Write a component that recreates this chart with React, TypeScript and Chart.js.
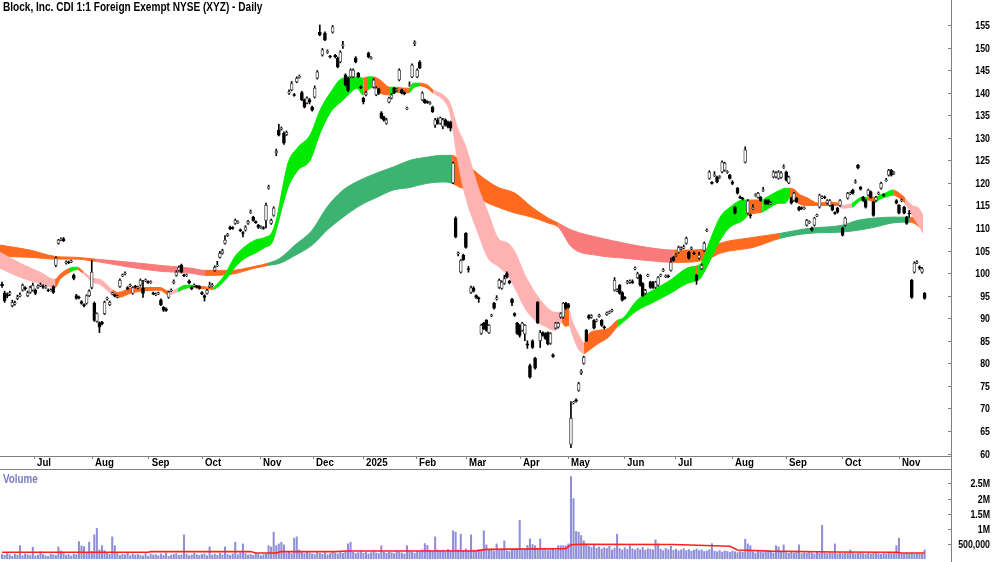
import React, { useEffect, useRef } from 'react';
import { Chart, registerables } from 'chart.js';

Chart.register(...registerables);

const FONT_FAMILY = "'Liberation Sans', Arial, sans-serif";
const TITLE = 'Block, Inc. CDI 1:1 Foreign Exempt NYSE (XYZ) - Daily';

// month ticks (day index) and labels
const monthTickPos = [12.49, 35.12, 57.25, 78.05, 100.68, 121.37, 140.88, 161.56, 181.07, 202.15, 220.88, 242.73, 262.63, 284.88, 305.95, 327.8, 350.05];
const monthTickLabel = ['Jul', 'Aug', 'Sep', 'Oct', 'Nov', 'Dec', '2025', 'Feb', 'Mar', 'Apr', 'May', 'Jun', 'Jul', 'Aug', 'Sep', 'Oct', 'Nov'];
const priceTicks = [60, 65, 70, 75, 80, 85, 90, 95, 100, 105, 110, 115, 120, 125, 130, 135, 140, 145, 150, 155];
const priceTickLabels = ['60', '65', '70', '75', '80', '85', '90', '95', '100', '105', '110', '115', '120', '125', '130', '135', '140', '145', '150', '155'];
const volumeTicks = [500000, 1000000, 1500000, 2000000, 2500000];
const volumeTickLabels = ['500,000', '1M', '1.5M', '2M', '2.5M'];

const openP = [
  97.5, 95.5, 95.2, 95.3, 92.8, 93.2, 94.4, 94.9, 96.2, 96.8,
  95, 95.7, 96.2, 96.2, 96.8, 97.2, 97.1, 96.8, 96.3, 96.1,
  97, 101.7, 106.6, 107.4, 107.6, 102.2, 102.5, 102.5, 99.5, 95,
  94.7, 93.7, 93, 93.3, 95, 96.8, 93.3, 89.3, 89, 89.1,
  91, 94.3, 93, 95.4, 95.1, 94.7, 97, 99.4, 99.8, 96.8,
  97.2, 95.5, 97.1, 96.7, 97.3, 96.6, 98.3, 98.1, 97.9, 95.6,
  95.2, 95.4, 94, 92.4, 92.1, 94.6, 96.1, 97.9, 99.5, 100.6,
  101.7, 99.6, 99.4, 98.3, 96.8, 97.2, 97.1, 97, 95.7, 95,
  95.5, 97, 97.2, 100.6, 101.6, 103.5, 104.4, 106.6, 108.3, 110.2,
  110.1, 111, 111.2, 109.6, 109, 109.5, 111, 113.4, 112.4, 111.4,
  110.6, 110.1, 110.1, 111.7, 118.8, 111, 112.8, 126.7, 131.7, 131.9,
  131, 130.7, 139.9, 140.6, 139.6, 142.4, 143.4, 140, 138.4, 137.7,
  138.4, 136.8, 139, 143.2, 153.4, 148.3, 153.2, 148.9, 148.1, 153.4,
  148.3, 147.6, 146.8, 150.4, 143.9, 143.2, 143.5, 143.5, 147.7, 144.3,
  141.3, 138.8, 139.5, 148.8, 147.6, 141.2, 139.5, 140.8, 135.5, 134.6,
  133.2, 137.9, 138.8, 141, 140.5, 142.8, 140.6, 140, 136.4, 141.6,
  143.5, 150.8, 143.5, 146.8, 138.4, 138.4, 138, 137.6, 136.8, 132.8,
  134, 133.2, 132.5, 134, 133.5, 133.5, 120, 112.2, 104.3, 100.2,
  104, 108.8, 101, 95.7, 96.7, 95, 94.5, 86.6, 88.9, 89.5,
  86.8, 90.5, 93.3, 94.3, 96.8, 96.6, 97.7, 99.9, 98.2, 94.2,
  91, 88.9, 88.4, 87.3, 86.5, 84.3, 79.5, 85, 81.1, 93.5,
  85, 86.8, 86.6, 86.8, 84.4, 81.9, 87.8, 88, 90.2, 90.2,
  93.3, 93, 62, 71.2, 71.9, 74, 77.9, 80, 87.3, 90.6,
  90.2, 89.5, 89.4, 90.4, 89.5, 88.1, 90.8, 91.2, 91.6, 96.2,
  96.1, 97.3, 95.7, 94.6, 97.9, 98, 98.1, 100.9, 99, 99.5,
  97.7, 95.5, 99.4, 98, 98, 96.8, 97.3, 99.4, 100.5, 99.2,
  99.4, 100.6, 103.5, 103.9, 104.6, 105.4, 105.6, 106.6, 104.6, 105.4,
  104.5, 99.5, 103.3, 101, 105, 109.4, 121, 120.1, 121.6, 121.3,
  121.2, 122.4, 122.8, 122.3, 121.7, 120.1, 114.6, 118.8, 116.9, 116.6,
  124.6, 113.3, 112.9, 114.3, 117.2, 116.8, 116.8, 118.3, 116.1, 116.1,
  115.4, 121.3, 121.3, 121, 121.2, 123.4, 122.4, 120, 116.6, 116.1,
  116.6, 114.6, 114.5, 114.3, 110.6, 111.2, 110, 110.6, 112.7, 114.6,
  116.7, 116.9, 115.5, 115, 115, 113.4, 114.4, 115, 110, 110.6,
  116.6, 117.6, 118.4, 120.1, 123.9, 119, 116.8, 116.1, 117.3, 118,
  115.7, 116.1, 117.6, 118.8, 117.4, 120.5, 121.7, 122.8, 122.1, 116.1,
  115, 116, 114.6, 112.4, 113.3, 98.4, 100.2, 102.3, 101.4, 100.2,
  95.5,
];

const highP = [
  98, 96, 95.6, 96, 94, 93.8, 95.1, 95.6, 97.6, 97,
  96, 97.1, 97.8, 96.5, 97.4, 97.8, 97.4, 97.3, 96.5, 96.5,
  97.2, 103.6, 107.5, 107.8, 107.9, 102.7, 102.7, 102.9, 99.8, 95.3,
  94.9, 93.9, 93.2, 95.2, 96.3, 102.8, 93.6, 91.2, 89.2, 89.3,
  93.8, 94.7, 93.8, 95.8, 95.3, 95.1, 98.7, 99.8, 100.3, 97,
  97.6, 97, 97.3, 97.1, 98.7, 98.4, 98.7, 98.3, 98.3, 95.8,
  95.6, 95.8, 94.3, 92.6, 92.3, 96, 96.5, 98.5, 100.5, 101.6,
  102, 99.8, 99.8, 98.5, 97, 97.6, 97.3, 97.2, 95.9, 95.2,
  96.4, 98, 97.7, 101.6, 102.6, 104.8, 105.3, 108.3, 108.8, 110.4,
  110.3, 112, 111.6, 109.8, 109.2, 110.5, 111.7, 114, 112.6, 111.6,
  110.8, 110.5, 110.3, 115.5, 119.5, 112, 114.7, 127.5, 133, 132.4,
  131.3, 131.5, 140.6, 142.5, 139.8, 143.5, 143.9, 140.3, 138.6, 139.1,
  138.7, 137, 141.5, 144.9, 155, 149.8, 153.5, 149.5, 148.3, 154.9,
  148.5, 147.9, 149.3, 151.4, 144.2, 143.5, 145.3, 145.3, 148, 144.5,
  141.5, 139, 140.3, 149, 148, 143.1, 141.3, 141, 135.8, 134.8,
  134.3, 139, 139.8, 141.2, 140.9, 145.3, 140.8, 140.2, 136.8, 142.4,
  146.4, 151.5, 145.3, 147.1, 140.2, 138.6, 138.2, 138, 137, 134.3,
  134.4, 134.6, 134.3, 134.2, 133.7, 133.7, 124.6, 112.5, 104.7, 103,
  104.2, 109, 101.5, 97.1, 97, 95.2, 94.7, 88.7, 89.1, 89.7,
  88.6, 90.9, 93.5, 95, 98.7, 98.3, 99.5, 100.3, 98.4, 94.4,
  91.2, 89.1, 88.6, 89.1, 88.6, 85, 79.8, 85.2, 81.3, 93.7,
  87.3, 87, 86.8, 87, 86.8, 82.1, 89.1, 89.1, 91.2, 93.5,
  93.5, 93.3, 71.5, 71.6, 72.1, 75.8, 78.6, 81.6, 87.5, 90.8,
  90.8, 89.7, 89.8, 90.9, 89.7, 88.3, 91.4, 91.6, 92, 99,
  96.5, 97.5, 95.9, 94.8, 98.4, 98.5, 98.5, 101.4, 100.2, 99.7,
  97.9, 96.4, 99.8, 98.2, 98.2, 98.2, 99.2, 99.8, 101, 99.6,
  99.6, 103.3, 103.7, 104.3, 106, 105.8, 106.2, 108, 104.8, 105.8,
  104.7, 99.7, 104.6, 102, 106.9, 109.8, 122.7, 120.3, 122.5, 121.5,
  121.6, 124.9, 124.6, 122.7, 121.9, 120.5, 114.8, 119, 117.1, 116.8,
  128, 116.3, 113.1, 115.2, 117.6, 117.9, 117, 119, 116.3, 116.3,
  115.8, 122.7, 122.5, 122.7, 122.5, 124, 122.6, 121.5, 116.8, 117.9,
  116.8, 114.8, 114.7, 114.7, 111.9, 111.6, 110.2, 112.4, 113.1, 117.5,
  117.1, 117.1, 116.3, 116.3, 115.2, 113.6, 114.6, 116.3, 110.2, 112.4,
  117.9, 118, 118.6, 120.7, 124.1, 119.2, 117, 116.3, 118.6, 118.2,
  115.9, 117, 118, 120.2, 117.6, 121, 123, 123, 122.5, 116.3,
  115.2, 116.4, 114.8, 112.6, 113.9, 98.6, 102.5, 102.8, 101.6, 101.3,
  95.7,
];

const lowP = [
  96.8, 93.5, 94.5, 95, 92.5, 92.9, 94.1, 94.7, 96, 96.2,
  94.8, 95.5, 96, 95.2, 96.6, 97, 96.6, 96.6, 95.9, 96,
  95.5, 101.4, 106.4, 107.2, 107, 102, 102.1, 102.3, 98.5, 94.2,
  94.3, 93.1, 92.5, 93.1, 94.8, 96.5, 89.3, 89.1, 86.8, 88.5,
  90.8, 94, 92.8, 95.2, 94.7, 94.5, 96.8, 99.2, 99.6, 96.3,
  97, 95.3, 96.7, 96.5, 97.1, 94.6, 98.1, 97.7, 97.7, 95.2,
  95, 95.2, 92.8, 91.5, 91.5, 94.4, 95.9, 97.6, 99.3, 100.4,
  100, 99.2, 99.2, 97.6, 96.3, 97, 96.7, 96.4, 95.2, 93.8,
  95.3, 96.8, 97, 100.4, 101.4, 103.3, 104.2, 106.4, 108.1, 109.6,
  109.7, 110.8, 111, 109.2, 108, 109.3, 110.8, 113.2, 111.5, 111,
  109.9, 109.9, 109.7, 110, 118.6, 110.8, 112.6, 126, 130.4, 131.7,
  128.5, 130.5, 139.6, 140.4, 139.2, 142.2, 143.2, 138.2, 136.6, 137.5,
  137.5, 135.9, 138.8, 143, 152.6, 148.1, 151.5, 148.7, 147.7, 153.2,
  147.7, 145.5, 146.6, 149.8, 141.5, 140.2, 143.3, 143.3, 146.6, 143.3,
  140.9, 137.5, 139.3, 147.7, 147.4, 141, 139.3, 139.6, 134.2, 133.7,
  133, 137.7, 138.6, 139.8, 140.3, 142.6, 139.7, 139.5, 136.2, 141.4,
  143.3, 150.4, 143.3, 145.3, 138.2, 137.6, 137.6, 137.4, 135.6, 132.3,
  133, 133, 132, 132.6, 132.2, 131.5, 119.8, 107.8, 103.8, 100,
  102.8, 105.5, 100.2, 95.5, 95.8, 94.4, 93.5, 86.4, 87.5, 87.1,
  86.6, 90.3, 92, 94, 96.6, 96.4, 97.5, 98.9, 97.6, 92.8,
  90.4, 86.4, 85.8, 87.1, 85, 83.3, 76.7, 83.3, 78.7, 88.8,
  83.5, 86, 85.3, 84.1, 84.2, 81.3, 87.6, 87.8, 90, 90,
  92, 92.2, 61.3, 71, 71.4, 73.8, 77.5, 79.8, 84.8, 89.8,
  90, 87.6, 89.2, 90.2, 88.2, 87.6, 90.6, 91, 91.4, 96,
  95.9, 95.3, 93.8, 94.2, 97.6, 97.7, 97.7, 100.7, 98.8, 97.1,
  94.8, 95.3, 99.2, 96.6, 96.6, 96.6, 97.1, 99.2, 100.3, 99,
  99, 100.4, 102.6, 103.7, 104.4, 105.2, 105.4, 106.4, 103.1, 105.2,
  104.1, 97.5, 103.1, 100.8, 104.8, 109.2, 120.8, 119.7, 121.4, 120,
  121, 122.2, 122.6, 122.1, 120.8, 119.6, 113.1, 117.5, 116.5, 116.2,
  124.4, 113.1, 112.2, 114.1, 117, 116.6, 115.9, 118.1, 115.2, 115.2,
  115.2, 121.1, 121.1, 120.8, 121, 123.2, 120.4, 119.8, 115.3, 115.9,
  115.6, 113.8, 114.1, 114.1, 110.4, 111, 109.3, 110.4, 112.5, 114.4,
  116.5, 116.5, 115.3, 114.8, 113.8, 113, 113.3, 114.8, 108.2, 110.4,
  116.4, 117.4, 117.5, 119.9, 123.1, 118.4, 115.9, 114.4, 117.1, 116.6,
  112.6, 115.9, 117.4, 118.6, 117, 120.3, 121.5, 121.5, 121.9, 115.3,
  113.1, 115.8, 113.1, 110.8, 112.4, 94.4, 100, 102.1, 100.8, 100,
  94.2,
];

const closeP = [
  97.2, 93.9, 94.9, 95.6, 93.5, 93.4, 94.7, 95.2, 97.3, 96.5,
  95.7, 96.8, 97.3, 95.5, 97.1, 97.4, 96.9, 97.1, 96.1, 96.3,
  95.7, 103.3, 107.3, 107.6, 107.2, 102.5, 102.3, 102.7, 98.8, 94.4,
  94.5, 93.3, 92.7, 95, 96, 100.2, 89.5, 91, 88, 88.8,
  93.5, 94.5, 93.5, 95.6, 94.9, 94.9, 98.4, 99.6, 100, 96.5,
  97.4, 96.8, 96.9, 96.9, 98.4, 95.5, 98.5, 97.9, 98.1, 95.4,
  95.4, 95.6, 93, 91.8, 91.7, 95.8, 96.3, 98.1, 100.2, 101.3,
  100.2, 99.4, 99.6, 97.8, 96.5, 97.4, 96.9, 96.6, 95.4, 94.6,
  96.2, 97.3, 97.4, 101.3, 101.8, 104.4, 105, 107.3, 108.6, 109.8,
  109.9, 111.7, 111.4, 109.4, 108.8, 110.2, 111.5, 113.6, 111.7, 111.2,
  110.1, 110.3, 109.9, 115, 119.1, 111.7, 114.4, 127, 130.6, 132.1,
  128.8, 131.2, 140.2, 142, 139.4, 143.2, 143.6, 138.4, 136.8, 138.8,
  138, 136.1, 141, 144.6, 152.8, 149.5, 151.7, 149.2, 147.9, 154.6,
  147.9, 145.7, 149, 150.6, 141.7, 140.5, 145, 145, 146.8, 143.5,
  141.1, 138, 140, 147.9, 147.8, 142.8, 141, 139.9, 134.4, 133.9,
  134, 138.8, 139.5, 140, 140.7, 145, 139.9, 139.8, 136.6, 141.8,
  146.1, 151.2, 145, 145.5, 139.9, 137.8, 137.8, 137.8, 135.8, 134,
  133.2, 134.4, 134, 132.8, 132.5, 132.1, 124.4, 108, 104.5, 102.8,
  103, 105.7, 100.8, 96.8, 96, 94.6, 94.3, 88.4, 87.7, 87.3,
  88.4, 90.7, 92.2, 94.5, 98.4, 98, 98.8, 99.1, 97.8, 93.4,
  90.6, 86.6, 86.2, 88.9, 88.4, 84, 76.9, 83.5, 78.9, 89,
  86.8, 86.2, 85.5, 84.3, 86.6, 81.5, 88.9, 88.9, 91, 93.3,
  92.2, 92.4, 67.8, 71.4, 71.6, 75.5, 78.3, 81.3, 85, 90,
  90.6, 87.8, 89.6, 90.7, 88.4, 87.9, 91.2, 91.4, 91.8, 98.4,
  96.3, 95.5, 94, 94.4, 98.1, 98.2, 97.9, 101.1, 99.9, 97.3,
  95, 96.2, 99.6, 96.8, 96.8, 98, 99, 99.6, 100.7, 99.4,
  99.2, 102.4, 102.8, 104.1, 105.7, 105.6, 105.8, 107.7, 103.3, 105.6,
  104.3, 98.4, 104, 101.7, 106.6, 109.6, 122.4, 119.9, 121.8, 120.2,
  121.4, 124.6, 124.4, 122.5, 121, 119.9, 113.3, 117.7, 116.7, 116.4,
  127.3, 116, 112.7, 114.5, 117.4, 117.7, 116.1, 118.5, 115.4, 115.4,
  115.6, 122.4, 122.2, 122.4, 122.2, 123.6, 120.6, 121.3, 115.5, 117.7,
  115.8, 114, 114.3, 114.5, 111.7, 111.4, 109.5, 112.2, 112.9, 117.3,
  116.9, 116.7, 116.1, 116.1, 114, 113.2, 113.5, 116.1, 108.4, 112.2,
  117.7, 117.8, 117.7, 120.3, 123.3, 118.6, 116.1, 114.6, 118.4, 116.8,
  112.8, 116.8, 117.8, 119.9, 117.2, 120.7, 122.8, 121.7, 122.3, 115.5,
  113.3, 116.2, 113.3, 111, 113.1, 94.6, 102.2, 102.5, 101.2, 101,
  94.4,
];

// volume in thousands
const volumeK = [
  150, 120, 180, 140, 90, 160, 130, 443, 110, 170, 140, 120, 390, 100, 130, 243, 150, 110, 90, 160,
  140, 120, 400, 267, 180, 130, 150, 100, 160, 140, 577, 433, 410, 200, 557, 250, 800, 1010, 300, 443,
  280, 200, 150, 733, 443, 180, 120, 160, 140, 200, 110, 170, 130, 150, 120, 100, 180, 90, 160, 130,
  140, 110, 170, 120, 200, 90, 130, 150, 180, 120, 140, 800, 160, 110, 130, 200, 140, 120, 150, 170,
  110, 400, 130, 160, 120, 190, 140, 400, 150, 120, 170, 557, 140, 200, 500, 180, 130, 150, 120, 200,
  160, 110, 140, 180, 443, 400, 890, 443, 500, 557, 467, 200, 250, 180, 690, 733, 300, 220, 180, 250,
  200, 170, 150, 230, 190, 160, 210, 140, 180, 250, 200, 170, 220, 190, 260, 500, 557, 230, 180, 210,
  250, 190, 230, 170, 210, 260, 200, 180, 443, 220, 190, 240, 210, 180, 260, 230, 200, 170, 443, 250,
  220, 190, 260, 240, 300, 510, 450, 280, 250, 733, 300, 260, 290, 240, 320, 270, 933, 890, 300, 820,
  280, 330, 260, 800, 300, 270, 310, 250, 933, 467, 290, 320, 260, 500, 280, 310, 600, 270, 250, 300,
  300, 330, 1280, 280, 300, 450, 667, 480, 443, 320, 667, 300, 350, 280, 310, 330, 290, 440, 440, 440,
  440, 500, 2730, 2000, 910, 890, 777, 600, 500, 420, 380, 450, 360, 400, 330, 380, 350, 420, 300, 360,
  823, 350, 300, 380, 320, 440, 340, 300, 360, 310, 380, 290, 340, 320, 300, 633, 500, 330, 280, 350,
  310, 420, 290, 330, 270, 300, 340, 280, 310, 260, 290, 330, 280, 300, 250, 270, 310, 510, 260, 240,
  280, 230, 270, 250, 220, 260, 240, 210, 250, 230, 657, 500, 440, 240, 200, 260, 230, 210, 240, 220,
  250, 200, 440, 400, 230, 467, 210, 190, 230, 200, 220, 467, 180, 210, 190, 230, 200, 170, 220, 190,
  1120, 210, 180, 220, 190, 500, 170, 200, 180, 210, 190, 300, 200, 170, 190, 220, 180, 160, 200, 170,
  190, 210, 180, 160, 200, 170, 190, 180, 210, 440, 690, 180, 160, 200, 170, 190, 150, 180, 170, 160,
  300,
];

// volume moving average (day index, thousands)
const volMaX = [0, 57, 58, 97, 99, 107, 109, 130, 134, 185, 189, 220, 222, 226, 262, 284, 287, 300, 325, 349, 351, 360];
const volMaK = [225, 225, 245, 245, 200, 200, 245, 245, 265, 270, 320, 345, 470, 490, 480, 420, 300, 260, 230, 222, 200, 200];

// fast ribbon (day index, upper, lower, colour state of following segment)
const fastX = [-0.8, 7.0, 14.8, 20.7, 22.6, 26.5, 29.3, 31.6, 35.5, 38.2, 43.3, 45.3, 51.1, 61.7, 64.8, 68.7, 71.4, 74.9, 77.3, 82.3, 83.9, 87.0, 90.9, 94.8, 98.7, 102.6, 105.4, 107.3, 109.3, 111.6, 115.5, 120.2, 124.1, 128.0, 133.1, 135.8, 138.5, 140.9, 142.8, 144.8, 147.5, 151.4, 154.1, 156.5, 159.2, 160.4, 163.1, 165.9, 168.2, 172.1, 174.8, 177.6, 180.7, 185.8, 189.7, 193.6, 197.5, 200.2, 204.1, 208.0, 211.9, 215.8, 218.5, 219.7, 221.3, 222.4, 224.8, 227.1, 229.1, 232.6, 236.5, 240.0, 242.3, 247.8, 254.0, 260.7, 267.3, 270.4, 271.6, 272.8, 276.3, 280.2, 284.1, 289.2, 291.1, 294.2, 296.6, 297.8, 303.6, 305.6, 307.5, 309.5, 310.6, 314.5, 318.4, 322.3, 326.2, 327.8, 331.7, 335.6, 337.9, 340.7, 342.6, 344.6, 347.7, 349.7, 352.4, 355.1, 357.7, 359.4];
const fastHi = [104.6, 102.2, 100.2, 98.6, 99.7, 101.1, 101.3, 100.4, 98.8, 98.6, 96.2, 95.7, 96.8, 96.8, 96.0, 96.6, 97.3, 97.3, 97.1, 96.8, 97.5, 99.7, 103.7, 105.9, 107.3, 107.9, 109.1, 112.4, 118.4, 124.4, 127.9, 130.6, 136.1, 139.9, 143.2, 143.2, 143.5, 143.2, 143.5, 143.5, 142.8, 141.2, 141.2, 141.0, 141.0, 142.1, 142.1, 141.7, 140.6, 139.5, 137.7, 132.4, 128.4, 119.0, 113.3, 107.7, 106.6, 104.6, 99.5, 95.7, 92.8, 91.3, 91.3, 92.6, 91.7, 89.5, 86.6, 84.6, 86.6, 87.3, 87.7, 89.5, 90.0, 94.0, 96.2, 98.4, 101.1, 101.5, 101.7, 102.2, 107.3, 112.4, 114.6, 116.2, 116.2, 116.2, 116.2, 116.6, 118.4, 118.8, 118.8, 118.4, 117.7, 116.6, 115.5, 115.7, 115.5, 115.0, 115.5, 116.8, 116.8, 116.8, 117.3, 117.7, 118.4, 117.9, 116.6, 115.0, 114.4, 112.8];
const fastLo = [101.1, 99.1, 97.7, 96.8, 98.6, 100.2, 100.8, 99.95, 97.95, 97.5, 95.1, 94.6, 95.7, 96.2, 95.2, 95.9, 96.6, 96.8, 96.6, 96.4, 96.8, 98.4, 101.3, 103.3, 104.4, 105.7, 106.8, 110.2, 114.6, 119.0, 122.8, 125.0, 131.0, 135.5, 138.4, 139.9, 141.0, 139.5, 140.6, 141.2, 139.9, 139.5, 140.1, 139.9, 140.1, 141.0, 141.5, 141.0, 139.9, 138.4, 135.5, 125.7, 117.3, 108.8, 103.3, 101.5, 99.3, 96.6, 92.2, 89.5, 88.2, 87.3, 89.1, 88.2, 88.4, 86.6, 83.3, 82.2, 82.9, 84.4, 85.7, 88.0, 89.1, 91.7, 93.5, 95.5, 97.7, 98.2, 98.4, 99.1, 102.8, 107.3, 110.2, 111.7, 112.8, 113.3, 113.5, 113.9, 115.5, 115.5, 116.8, 116.2, 115.5, 115.0, 115.0, 115.0, 115.0, 114.4, 114.6, 116.2, 116.2, 115.7, 116.4, 116.8, 117.3, 116.8, 115.5, 112.8, 110.6, 108.8];
const fastState = ['P', 'P', 'P', 'O', 'O', 'G', 'O', 'P', 'P', 'P', 'O', 'O', 'O', 'O', 'P', 'G', 'G', 'O', 'O', 'G', 'G', 'G', 'G', 'G', 'G', 'G', 'G', 'G', 'G', 'G', 'G', 'G', 'G', 'G', 'G', 'G', 'G', 'O', 'G', 'O', 'O', 'G', 'O', 'O', 'G', 'G', 'O', 'O', 'P', 'P', 'P', 'P', 'P', 'P', 'P', 'P', 'P', 'P', 'P', 'P', 'P', 'P', 'O', 'O', 'P', 'P', 'P', 'O', 'O', 'O', 'O', 'G', 'G', 'G', 'G', 'G', 'G', 'O', 'G', 'G', 'G', 'G', 'G', 'G', 'O', 'O', 'G', 'G', 'G', 'G', 'O', 'O', 'O', 'O', 'O', 'O', 'P', 'P', 'G', 'G', 'O', 'G', 'G', 'G', 'O', 'O', 'P', 'P', 'P', 'P'];

// slow ribbon
const slowX = [-0.8, 10.9, 20.7, 28.5, 36.3, 50.0, 61.7, 73.4, 79.2, 89.0, 98.7, 103.8, 108.5, 114.3, 121.0, 126.8, 133.1, 139.7, 146.3, 152.6, 159.2, 165.9, 172.1, 175.6, 178.7, 182.6, 187.3, 193.6, 200.2, 206.8, 213.1, 217.0, 222.4, 232.6, 243.1, 251.7, 261.9, 267.3, 276.3, 280.2, 293.1, 303.6, 314.5, 327.8, 334.0, 340.7, 347.3, 354.3, 359.0];
const slowHi = [106.2, 105.1, 103.7, 103.5, 103.1, 102.4, 101.7, 101.1, 100.6, 100.6, 101.5, 102.2, 103.3, 106.2, 109.5, 114.6, 118.4, 120.6, 122.2, 123.5, 125.0, 125.7, 126.1, 126.1, 125.0, 123.5, 121.3, 119.0, 117.7, 114.6, 112.2, 111.1, 109.5, 107.9, 106.6, 105.7, 105.1, 105.1, 105.5, 106.6, 107.9, 108.8, 109.9, 110.6, 111.7, 112.2, 112.4, 112.4, 111.5];
const slowLo = [103.7, 103.5, 103.1, 103.1, 102.6, 101.3, 100.4, 100.0, 99.5, 99.7, 101.1, 101.7, 102.2, 103.9, 106.2, 109.5, 112.4, 115.0, 116.8, 118.4, 119.0, 119.9, 120.2, 119.9, 119.0, 118.4, 116.2, 114.6, 113.3, 112.4, 111.1, 110.2, 105.7, 103.9, 103.3, 102.8, 102.4, 102.4, 103.3, 104.4, 105.7, 107.7, 108.8, 109.1, 109.5, 110.2, 111.1, 111.3, 109.9];
const slowState = ['O', 'O', 'O', 'O', 'P', 'P', 'P', 'P', 'O', 'O', 'O', 'G', 'G', 'G', 'G', 'G', 'G', 'G', 'G', 'G', 'G', 'G', 'G', 'O', 'O', 'O', 'O', 'O', 'O', 'O', 'O', 'P', 'P', 'P', 'P', 'P', 'O', 'O', 'O', 'O', 'O', 'G', 'G', 'G', 'G', 'G', 'G', 'O', 'O'];

const FAST_COLORS: any = { G: '#00ea00', O: '#ff6a1e', P: '#ffb2b2' };
const SLOW_COLORS: any = { G: '#3cb371', O: '#ff6a1e', P: '#f97a7a' };

const X_MIN = -0.8;
const X_MAX = 370.3;

function ribbonDatasets(xs: number[], hi: number[], lo: number[], st: string[], pal: any, order: number) {
  const col = (ctx: any) => pal[st[ctx.p0DataIndex]] || pal.G;
  const common = {
    type: 'line',
    pointRadius: 0,
    borderWidth: 1,
    cubicInterpolationMode: 'monotone',
    order,
    segment: { borderColor: col, backgroundColor: col },
  };
  return [
    { ...common, data: xs.map((x, i) => ({ x, y: hi[i] })), fill: false, borderColor: pal.G, backgroundColor: pal.G },
    { ...common, data: xs.map((x, i) => ({ x, y: lo[i] })), fill: '-1', borderColor: pal.G, backgroundColor: pal.G },
  ];
}

// draws text compressed horizontally (the source uses a narrow typeface)
function drawNarrow(ctx: any, text: string, x: number, y: number, size: number, squeeze: number, align: string, color: string) {
  ctx.save();
  ctx.translate(x, y);
  ctx.scale(squeeze, 1);
  ctx.font = `bold ${size}px ${FONT_FAMILY}`;
  ctx.fillStyle = color;
  ctx.textAlign = align;
  ctx.textBaseline = 'alphabetic';
  ctx.fillText(text, 0, 0);
  ctx.restore();
}

function drawInnerTicks(ctx: any, xRight: number, ys: number[]) {
  ctx.save();
  ctx.strokeStyle = '#808080';
  ctx.lineWidth = 1;
  ctx.beginPath();
  ys.forEach((y) => {
    const yy = Math.round(y) + 0.5;
    ctx.moveTo(xRight - 3, yy);
    ctx.lineTo(xRight, yy);
  });
  ctx.stroke();
  ctx.restore();
}

const priceDecor = {
  id: 'priceDecor',
  afterDraw(chart: any) {
    const ctx = chart.ctx;
    const area = chart.chartArea;
    const xs = chart.scales.x;
    const ys = chart.scales.y;
    const axisX = Math.round(area.right) + 0.5;
    ctx.save();
    ctx.strokeStyle = '#808080';
    ctx.lineWidth = 1;
    ctx.beginPath();
    ctx.moveTo(axisX, 0);
    ctx.lineTo(axisX, chart.height);
    ctx.stroke();
    ctx.restore();
    drawInnerTicks(ctx, axisX - 0.5, priceTicks.map((v) => ys.getPixelForValue(v)));
    drawNarrow(ctx, TITLE, 3, 11, 12, 0.84, 'left', '#000');
    priceTicks.forEach((v, i) => {
      drawNarrow(ctx, priceTickLabels[i], 990, ys.getPixelForValue(v) + 4, 11, 0.8, 'right', '#000');
    });
    monthTickPos.forEach((v, i) => {
      drawNarrow(ctx, monthTickLabel[i], xs.getPixelForValue(v) + 3, 466, 11, 0.88, 'left', '#000');
    });
  },
};

const volumeDecor = {
  id: 'volumeDecor',
  afterDraw(chart: any) {
    const ctx = chart.ctx;
    const area = chart.chartArea;
    const ys = chart.scales.y;
    const axisX = Math.round(area.right) + 0.5;
    ctx.save();
    ctx.strokeStyle = '#808080';
    ctx.lineWidth = 1;
    ctx.beginPath();
    ctx.moveTo(0, 0.5);
    ctx.lineTo(axisX, 0.5);
    ctx.moveTo(axisX, 0);
    ctx.lineTo(axisX, chart.height);
    ctx.stroke();
    ctx.restore();
    drawInnerTicks(ctx, axisX - 0.5, volumeTicks.map((v) => ys.getPixelForValue(v)));
    drawNarrow(ctx, 'Volume', 3, 14, 12, 0.82, 'left', '#7b7bc4');
    volumeTicks.forEach((v, i) => {
      drawNarrow(ctx, volumeTickLabels[i], 990, ys.getPixelForValue(v) + 4, 11, 0.8, 'right', '#000');
    });
  },
};

export default function App() {
  const priceRef = useRef<HTMLCanvasElement | null>(null);
  const volRef = useRef<HTMLCanvasElement | null>(null);

  useEffect(() => {
    const wickData = closeP.map((_, i) => ({ x: i, y: [lowP[i], highP[i]] }));
    const bodyData = closeP.map((c, i) => ({ x: i, y: [Math.min(openP[i], c), Math.max(openP[i], c)] }));
    const bodyColors = closeP.map((c, i) => (c >= openP[i] ? '#ffffff' : '#000000'));
    const bodyBorders = closeP.map((c, i) => (c >= openP[i] ? '#555555' : '#000000'));

    const priceChart = new Chart(priceRef.current as HTMLCanvasElement, {
      type: 'bar',
      data: {
        datasets: [
          ...ribbonDatasets(slowX, slowHi, slowLo, slowState, SLOW_COLORS, 20),
          ...ribbonDatasets(fastX, fastHi, fastLo, fastState, FAST_COLORS, 10),
          {
            type: 'bar',
            data: wickData,
            backgroundColor: '#000000',
            borderWidth: 0,
            barThickness: 1,
            grouped: false,
            order: 2,
          },
          {
            type: 'bar',
            data: bodyData,
            backgroundColor: bodyColors,
            borderColor: bodyBorders,
            borderWidth: 1,
            borderSkipped: false,
            barThickness: 3,
            grouped: false,
            order: 1,
          },
        ] as any,
      },
      options: {
        responsive: false,
        animation: false,
        events: [],
        layout: { padding: { left: 0, right: 10, top: 0, bottom: 0 } },
        plugins: { legend: { display: false }, tooltip: { enabled: false } },
        scales: {
          x: {
            type: 'linear',
            min: X_MIN,
            max: X_MAX,
            offset: false,
            afterBuildTicks: (s: any) => {
              s.ticks = monthTickPos.map((v) => ({ value: v }));
            },
            afterFit: (s: any) => {
              s.height = 13;
            },
            ticks: { display: false, autoSkip: false, maxRotation: 0, minRotation: 0 },
            grid: { drawOnChartArea: false, drawTicks: true, tickLength: 3, color: '#808080', offset: false },
            border: { display: true, color: '#808080' },
          },
          y: {
            type: 'linear',
            position: 'right',
            min: 59.45,
            max: 160.54,
            afterBuildTicks: (s: any) => {
              s.ticks = priceTicks.map((v) => ({ value: v }));
            },
            afterFit: (s: any) => {
              s.width = 39;
            },
            ticks: { display: false },
            grid: { drawOnChartArea: false, drawTicks: false },
            border: { display: true, color: '#808080' },
          },
        },
      } as any,
      plugins: [priceDecor],
    });

    const volChart = new Chart(volRef.current as HTMLCanvasElement, {
      type: 'bar',
      data: {
        datasets: [
          {
            type: 'line',
            data: volMaX.map((x, i) => ({ x, y: volMaK[i] * 1000 })),
            borderColor: '#ff2020',
            borderWidth: 1.6,
            pointRadius: 0,
            fill: false,
            order: 0,
          },
          {
            type: 'bar',
            data: volumeK.map((v, i) => ({ x: i, y: v * 1000 })),
            backgroundColor: '#8f8fd8',
            borderWidth: 0,
            barThickness: 1.4,
            grouped: false,
            order: 1,
          },
        ] as any,
      },
      options: {
        responsive: false,
        animation: false,
        events: [],
        layout: { padding: { left: 0, right: 10, top: 0, bottom: 3 } },
        plugins: { legend: { display: false }, tooltip: { enabled: false } },
        scales: {
          x: { type: 'linear', min: X_MIN, max: X_MAX, offset: false, display: false },
          y: {
            type: 'linear',
            position: 'right',
            min: 0,
            max: 2980000,
            afterBuildTicks: (s: any) => {
              s.ticks = volumeTicks.map((v) => ({ value: v }));
            },
            afterFit: (s: any) => {
              s.width = 39;
            },
            ticks: { display: false },
            grid: { drawOnChartArea: false, drawTicks: false },
            border: { display: true, color: '#808080' },
          },
        },
      } as any,
      plugins: [volumeDecor],
    });

    return () => {
      priceChart.destroy();
      volChart.destroy();
    };
  }, []);

  return (
    <div style={{ position: 'absolute', left: 0, top: 0, width: 1000, height: 562, background: '#ffffff' }}>
      <div style={{ position: 'absolute', left: 0, top: 0, width: 1000, height: 469 }}>
        <canvas ref={priceRef} width={1000} height={469} style={{ display: 'block' }} />
      </div>
      <div style={{ position: 'absolute', left: 0, top: 469, width: 1000, height: 93 }}>
        <canvas ref={volRef} width={1000} height={93} style={{ display: 'block' }} />
      </div>
    </div>
  );
}
